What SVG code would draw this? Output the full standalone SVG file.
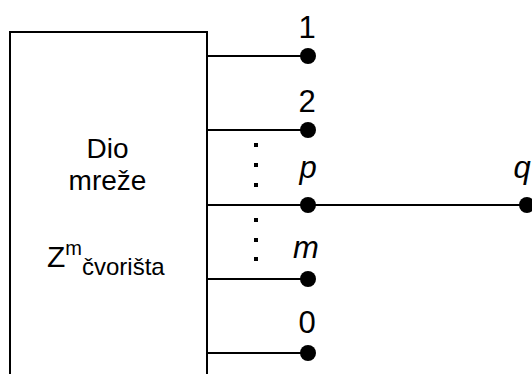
<svg xmlns="http://www.w3.org/2000/svg" width="532" height="374" viewBox="0 0 532 374">
<style>
.ln{stroke:#000;stroke-width:2;fill:none}
.dot{fill:#000}
.t{font-family:"Liberation Sans",Arial,sans-serif;fill:#000}
.lbl{font-size:31px;text-anchor:middle}
.it{font-style:italic}
.sq{fill:#000}
</style>
<rect width="532" height="374" fill="#fff"/>
<g id="box">
<path class="ln" d="M10,376 V32 H207 V376"/>
<text class="t" x="107.5" y="158" font-size="28" text-anchor="middle">Dio</text>
<text class="t" x="107.5" y="190" font-size="28" text-anchor="middle">mreže</text>
<text class="t" x="47" y="267"><tspan font-size="30">Z</tspan><tspan font-size="20" dy="-12">m</tspan><tspan font-size="24" dy="20">čvorišta</tspan></text>
</g>
<g id="connectors">
<line class="ln" x1="207" y1="56" x2="308" y2="56"/>
<line class="ln" x1="207" y1="130" x2="308" y2="130"/>
<line class="ln" x1="207" y1="205" x2="527" y2="205"/>
<line class="ln" x1="207" y1="279" x2="308" y2="279"/>
<line class="ln" x1="207" y1="353" x2="308" y2="353"/>
</g>
<g id="node-1"><circle class="dot" cx="308" cy="56" r="8"/><text class="t lbl" x="307" y="38">1</text></g>
<g id="node-2"><circle class="dot" cx="308" cy="130" r="8"/><text class="t lbl" x="307" y="112">2</text></g>
<g id="node-p"><circle class="dot" cx="308" cy="205" r="8"/><text class="t lbl it" x="308" y="178">p</text></g>
<g id="node-m"><circle class="dot" cx="308" cy="279" r="8"/><text class="t lbl it" x="306" y="258">m</text></g>
<g id="node-0"><circle class="dot" cx="308" cy="353" r="8"/><text class="t lbl" x="307" y="333">0</text></g>
<g id="node-q"><circle class="dot" cx="527" cy="205" r="8"/><text class="t lbl it" x="522" y="178">q</text></g>
<g id="ellipsis">
<rect class="sq" x="254" y="143" width="4" height="4"/>
<rect class="sq" x="254" y="163" width="4" height="4"/>
<rect class="sq" x="254" y="183" width="4" height="4"/>
<rect class="sq" x="254" y="218" width="4" height="4"/>
<rect class="sq" x="254" y="238" width="4" height="4"/>
<rect class="sq" x="254" y="257" width="4" height="4"/>
</g>
</svg>
